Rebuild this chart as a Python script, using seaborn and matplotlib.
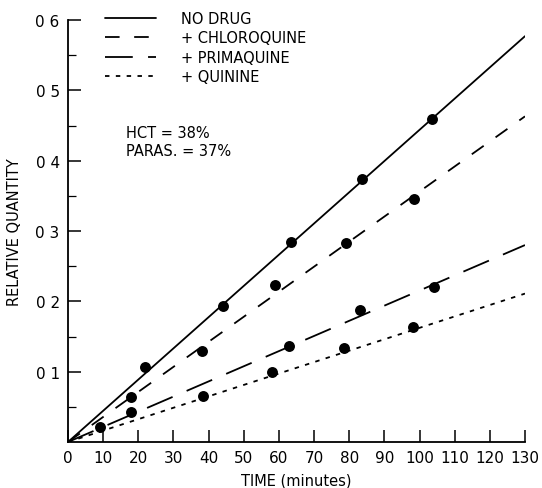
import matplotlib
matplotlib.use("Agg")
import matplotlib.pyplot as plt
import seaborn as sns
import pandas as pd
from matplotlib.ticker import FixedLocator

# ---------------- data ----------------
series = ["NO DRUG", "+ CHLOROQUINE", "+ PRIMAQUINE", "+ QUININE"]

nodrug_t = [22, 44, 63.5, 83.5, 103.5]
nodrug_q = [0.107, 0.194, 0.284, 0.374, 0.459]
chloro_t = [18, 38, 59, 79, 98.5]
chloro_q = [0.064, 0.130, 0.223, 0.283, 0.345]
prima_t = [9, 18, 63, 83, 104]
prima_q = [0.022, 0.042, 0.137, 0.187, 0.221]
quin_t = [38.5, 58, 78.5, 98]
quin_q = [0.065, 0.099, 0.134, 0.163]

# fitted straight lines (start, end)
fit_t = [0, 130]
nodrug_fit = [0, 0.577]
chloro_fit = [0, 0.463]
prima_fit = [0, 0.280]
quin_fit = [0, 0.211]

x_ticks = [0, 10, 20, 30, 40, 50, 60, 70, 80, 90, 100, 110, 120, 130]
x_ticklabels = ["0", "10", "20", "30", "40", "50", "60", "70", "80", "90",
                "100", "110", "120", "130"]
y_ticks = [0.1, 0.2, 0.3, 0.4, 0.5, 0.6]
y_ticklabels = ["0 1", "0 2", "0 3", "0 4", "0 5", "0 6"]
y_minor = [0.05, 0.15, 0.25, 0.35, 0.45, 0.55]

# ---------------- frames ----------------
pts = pd.DataFrame({
    "time": nodrug_t + chloro_t + prima_t + quin_t,
    "qty": nodrug_q + chloro_q + prima_q + quin_q,
    "series": [series[0]] * len(nodrug_t) + [series[1]] * len(chloro_t)
              + [series[2]] * len(prima_t) + [series[3]] * len(quin_t),
})
fits = {series[0]: nodrug_fit, series[1]: chloro_fit,
        series[2]: prima_fit, series[3]: quin_fit}

sns.set_theme(style="ticks")
plt.rcParams["font.family"] = ["DejaVu Sans"]
plt.rcParams["lines.scale_dashes"] = False
plt.rcParams["text.color"] = "black"
plt.rcParams["axes.labelcolor"] = "black"
plt.rcParams["xtick.color"] = "black"
plt.rcParams["ytick.color"] = "black"

fig = plt.figure(figsize=(5.42, 4.89), dpi=100)
ax = fig.add_axes([68 / 542, 46 / 489, 457 / 542, 422 / 489])

styles = {
    series[0]: "-",
    series[1]: (0, (10.5, 10.5)),
    series[2]: (0, (20, 11)),
    series[3]: (0, (3.2, 4.6)),
}

for s in series:
    df = pd.DataFrame({"time": fit_t, "qty": fits[s]})
    sns.lineplot(data=df, x="time", y="qty", ax=ax, color="black",
                 linewidth=1.3, linestyle=styles[s], label=s)

sns.scatterplot(data=pts, x="time", y="qty", ax=ax, color="black", s=62,
                edgecolor="black", linewidth=0, legend=False, zorder=5)

ax.set_xlim(0, 130)
ax.set_ylim(0, 0.6)
sns.despine(ax=ax)
for sp in ["left", "bottom"]:
    ax.spines[sp].set_linewidth(1.3)
    ax.spines[sp].set_color("black")

ax.set_xticks(x_ticks)
ax.set_xticklabels(x_ticklabels)
ax.set_yticks(y_ticks)
ax.set_yticklabels(y_ticklabels)
ax.yaxis.set_minor_locator(FixedLocator(y_minor))
ax.tick_params(axis="both", which="major", direction="in", length=9,
               width=1.1, color="black", labelsize=11, labelcolor="black")
ax.tick_params(axis="x", which="major", pad=6)
ax.tick_params(axis="y", which="major", pad=6)
ax.tick_params(axis="y", which="minor", direction="in", length=6, width=0.9,
               color="black")

ax.set_xlabel("TIME (minutes)", fontsize=10.5, labelpad=5, color="black")
ax.set_ylabel("RELATIVE QUANTITY", fontsize=10.5, labelpad=10, color="black")

ax.text(0.127, 0.733, "HCT = 38%", transform=ax.transAxes, fontsize=10.5,
        va="center", ha="left", color="black")
ax.text(0.127, 0.691, "PARAS. = 37%", transform=ax.transAxes, fontsize=10.5,
        va="center", ha="left", color="black")

handles, labels = ax.get_legend_handles_labels()
ax.legend(handles, labels, loc="upper left",
          bbox_to_anchor=(37 / 457, (443 - 12) / 422), frameon=False,
          handlelength=3.5, handletextpad=1.7, labelspacing=0.3,
          fontsize=10.5, borderpad=0, borderaxespad=0)

fig.savefig("out.png", dpi=100, facecolor="white")
